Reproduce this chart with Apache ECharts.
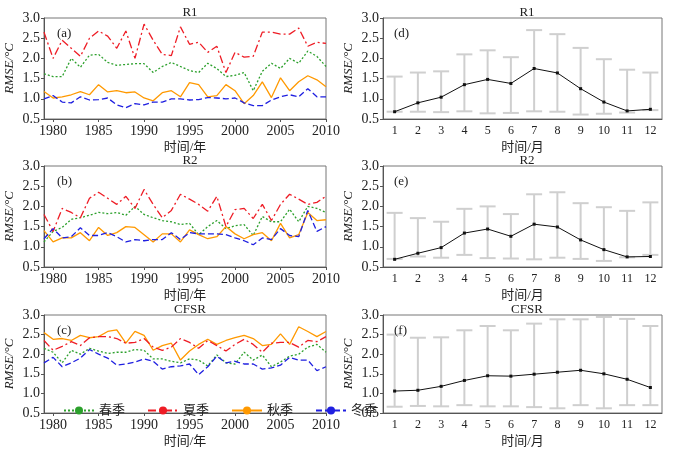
<!DOCTYPE html>
<html><head><meta charset="utf-8">
<script src="https://cdn.jsdelivr.net/npm/echarts@6/dist/echarts.min.js"></script>
<style>html,body{margin:0;padding:0;background:#fff}#c{width:673px;height:449px}</style>
</head><body><div id="c"></div>
<script>
const years = [];for(let y=1979;y<=2010;y++)years.push(y);
const months = ['1','2','3','4','5','6','7','8','9','10','11','12'];
const seasonNames = ['春季','夏季','秋季','冬季'];
const r1Spring = [1.62,1.55,1.55,2.0,1.78,2.08,2.1,1.9,1.83,1.85,1.87,1.87,1.65,1.8,1.9,1.8,1.7,1.65,1.88,1.75,1.55,1.58,1.65,1.2,1.68,1.88,1.75,2.0,1.88,2.18,2.05,1.8];
const r1Summer = [2.65,2.0,2.45,2.25,2.05,2.5,2.68,2.55,2.25,2.68,2.0,2.85,2.45,2.1,2.07,2.78,2.35,2.4,2.15,2.3,1.65,2.15,2.03,2.05,2.65,2.65,2.6,2.6,2.75,2.3,2.4,2.37];
const r1Autumn = [1.18,1.02,1.05,1.1,1.18,1.1,1.35,1.17,1.2,1.15,1.17,1.02,0.95,1.15,1.2,1.05,1.4,1.35,1.05,1.08,1.35,1.2,0.88,1.08,1.42,1.03,1.52,1.2,1.42,1.57,1.47,1.3];
const r1Winter = [1.0,1.08,0.92,0.9,1.05,0.97,0.98,1.02,0.85,0.78,0.88,0.85,0.92,0.92,1.0,1.0,0.97,0.98,1.03,1.02,1.0,1.02,0.9,0.83,0.83,0.97,1.05,1.1,1.05,1.25,1.05,1.05];
const r2Spring = [1.12,1.38,1.48,1.68,1.72,1.78,1.85,1.82,1.85,1.78,2.0,1.8,1.72,1.65,1.62,1.55,1.58,1.3,1.5,1.65,1.45,1.52,1.55,1.28,1.75,1.62,1.62,1.93,1.62,2.0,1.95,1.85];
const r2Summer = [1.8,1.38,1.95,1.85,1.72,2.2,2.35,2.2,2.05,2.25,1.95,2.42,2.05,1.72,1.9,2.3,2.18,2.05,1.88,2.25,1.5,1.92,1.95,1.7,2.05,1.65,2.05,2.3,2.18,2.05,2.1,2.25];
const r2Autumn = [1.4,1.12,1.22,1.22,1.35,1.15,1.48,1.28,1.35,1.5,1.48,1.3,1.12,1.32,1.32,1.12,1.42,1.3,1.2,1.25,1.5,1.32,1.2,1.3,1.35,1.15,1.58,1.22,1.3,1.85,1.65,1.67];
const r2Winter = [1.2,1.45,1.22,1.25,1.47,1.28,1.28,1.35,1.25,1.12,1.18,1.15,1.18,1.18,1.35,1.18,1.35,1.32,1.32,1.32,1.3,1.22,1.15,1.05,1.22,1.18,1.45,1.28,1.25,1.9,1.38,1.5];
const cfSpring = [2.15,2.05,1.78,2.1,2.0,2.15,2.08,2.02,2.05,2.05,2.12,2.1,1.88,1.88,1.82,1.78,1.88,1.85,1.7,1.98,1.78,1.75,2.05,1.85,1.98,1.68,1.8,1.95,2.0,2.18,2.25,2.05];
const cfSummer = [2.35,2.1,2.2,2.32,2.22,2.42,2.45,2.45,2.4,2.28,2.3,2.4,2.18,2.1,2.18,2.4,2.3,2.15,2.35,2.22,2.08,2.25,2.38,2.25,2.05,2.28,2.3,2.3,2.18,2.35,2.32,2.45];
const cfAutumn = [2.55,2.38,2.4,2.35,2.48,2.42,2.45,2.58,2.62,2.28,2.58,2.48,2.1,2.22,2.28,1.85,2.08,2.25,2.38,2.25,2.35,2.42,2.48,2.4,2.22,2.25,2.52,2.25,2.7,2.58,2.45,2.58];
const cfWinter = [1.78,1.92,1.68,1.78,1.9,2.12,2.0,1.9,1.72,1.75,1.8,1.88,1.82,1.62,1.68,1.7,1.75,1.48,1.68,1.95,1.78,1.82,1.75,1.75,1.62,1.65,1.72,1.92,1.85,1.85,1.58,1.68];
const r1Mean = [0.68,0.9,1.04,1.35,1.48,1.38,1.75,1.64,1.25,0.92,0.7,0.74];
const r1Low  = [0.68,0.68,0.67,0.69,0.64,0.65,0.69,0.68,0.61,0.63,0.66,0.72];
const r1High = [1.55,1.65,1.68,2.1,2.2,2.03,2.7,2.6,2.26,1.98,1.72,1.65];
const r2Mean = [0.69,0.84,0.98,1.34,1.44,1.26,1.56,1.49,1.17,0.93,0.75,0.76];
const r2Low  = [0.7,0.76,0.73,0.8,0.72,0.71,0.69,0.73,0.7,0.65,0.74,0.8];
const r2High = [1.84,1.71,1.62,1.94,2.0,1.81,2.3,2.35,2.08,1.98,1.89,2.1];
const cfMean = [1.06,1.08,1.18,1.33,1.45,1.44,1.49,1.54,1.59,1.5,1.36,1.15];
const cfLow  = [0.66,0.68,0.67,0.7,0.67,0.67,0.65,0.62,0.7,0.62,0.7,0.7];
const cfHigh = [2.5,2.42,2.43,2.61,2.72,2.61,2.78,2.89,2.89,2.95,2.9,2.72];

const titles=['R1','R2','CFSR'];
const leftTags=['(a)','(b)','(c)'], rightTags=['(d)','(e)','(f)'];
const seasonal=[[r1Spring,r1Summer,r1Autumn,r1Winter],[r2Spring,r2Summer,r2Autumn,r2Winter],[cfSpring,cfSummer,cfAutumn,cfWinter]];
const monthly=[[r1Mean,r1Low,r1High],[r2Mean,r2Low,r2High],[cfMean,cfLow,cfHigh]];
const styles=[{color:'#2ca02c',type:[2,2]},{color:'#ee1c25',type:[8,3,2,3]},{color:'#ff9900',type:'solid'},{color:'#1f1fe0',type:[6,3]}];
const tops=[18,166,315], H=101;
const F='"Liberation Serif","Noto Sans CJK SC",serif';
const grid=[],xAxis=[],yAxis=[],series=[],title=[];
const axisLine={lineStyle:{color:'#555',width:1}};
const txt={color:'#222',fontFamily:F,fontSize:13};
const yearTicks=[1980,1985,1990,1995,2000,2005,2010];
for(let p=0;p<3;p++){
  grid.push({left:44,width:282,top:tops[p],height:H,show:true,borderColor:'#777',borderWidth:1});
  grid.push({left:383,width:279,top:tops[p],height:H,show:true,borderColor:'#777',borderWidth:1});
  const gi=p*2;
  xAxis.push({gridIndex:gi,type:'value',min:1979,max:2010,axisLine,axisTick:{length:3,customValues:yearTicks},
    axisLabel:{...txt,fontSize:14,margin:5,customValues:yearTicks,formatter:v=>String(v)},splitLine:{show:false},
    name:'时间/年',nameLocation:'middle',nameGap:22,nameTextStyle:{...txt,fontSize:13}});
  xAxis.push({gridIndex:gi+1,type:'category',data:months,axisLine,axisTick:{alignWithLabel:true,length:3},
    axisLabel:{...txt,fontSize:12,margin:6},name:'时间/月',nameLocation:'middle',nameGap:22,nameTextStyle:{...txt,fontSize:13}});
  for(const g of [gi,gi+1]){
    yAxis.push({gridIndex:g,type:'value',min:0.5,max:3.0,interval:0.5,axisLine:{show:true,...axisLine},axisTick:{show:true,length:3},splitLine:{show:false},
      axisLabel:{...txt,fontSize:14,margin:4,formatter:v=>v.toFixed(1)},
      name:'RMSE/°C',nameLocation:'middle',nameRotate:90,nameGap:28,nameTextStyle:{...txt,fontStyle:'italic',fontSize:13}});
  }
  title.push({text:titles[p],left:185,top:tops[p]-17,textAlign:'center',textStyle:{...txt,fontWeight:'normal',fontSize:13}});
  title.push({text:titles[p],left:522,top:tops[p]-17,textAlign:'center',textStyle:{...txt,fontWeight:'normal',fontSize:13}});
  title.push({text:leftTags[p],left:52,top:tops[p]+4,textStyle:{...txt,fontWeight:'normal',fontSize:13}});
  title.push({text:rightTags[p],left:389,top:tops[p]+4,textStyle:{...txt,fontWeight:'normal',fontSize:13}});
  seasonal[p].forEach((arr,k)=>{
    series.push({type:'line',name:seasonNames[k],xAxisIndex:gi,yAxisIndex:gi,data:years.map((y,i)=>[y,arr[i]]),
      symbol:'none',lineStyle:{color:styles[k].color,type:styles[k].type,width:1.3},itemStyle:{color:styles[k].color},z:[2,4,3,5][k]});
  });
  const [m,lo,hi]=monthly[p];
  series.push({type:'custom',xAxisIndex:gi+1,yAxisIndex:gi+1,data:months.map((c,i)=>[i,lo[i],hi[i]]),
    renderItem:(params,api)=>{
      const a=api.coord([api.value(0),api.value(1)]),b=api.coord([api.value(0),api.value(2)]);
      const w=8, st={stroke:'#cfcfcf',lineWidth:2};
      return {type:'group',children:[
        {type:'line',shape:{x1:a[0],y1:a[1],x2:b[0],y2:b[1]},style:st},
        {type:'line',shape:{x1:a[0]-w,y1:a[1],x2:a[0]+w,y2:a[1]},style:st},
        {type:'line',shape:{x1:b[0]-w,y1:b[1],x2:b[0]+w,y2:b[1]},style:st}]};
    },z:1});
  series.push({type:'line',xAxisIndex:gi+1,yAxisIndex:gi+1,data:m,symbol:'rect',symbolSize:3,
    lineStyle:{color:'#111',width:1},itemStyle:{color:'#111'},z:5});
}
const chart=echarts.init(document.getElementById('c'));
chart.setOption({animation:false,title,grid,xAxis,yAxis,series,
  legend:{data:seasonNames,left:58,top:399,itemWidth:30,itemHeight:10,itemGap:22,textStyle:{...txt,fontSize:13}}});
</script></body></html>
